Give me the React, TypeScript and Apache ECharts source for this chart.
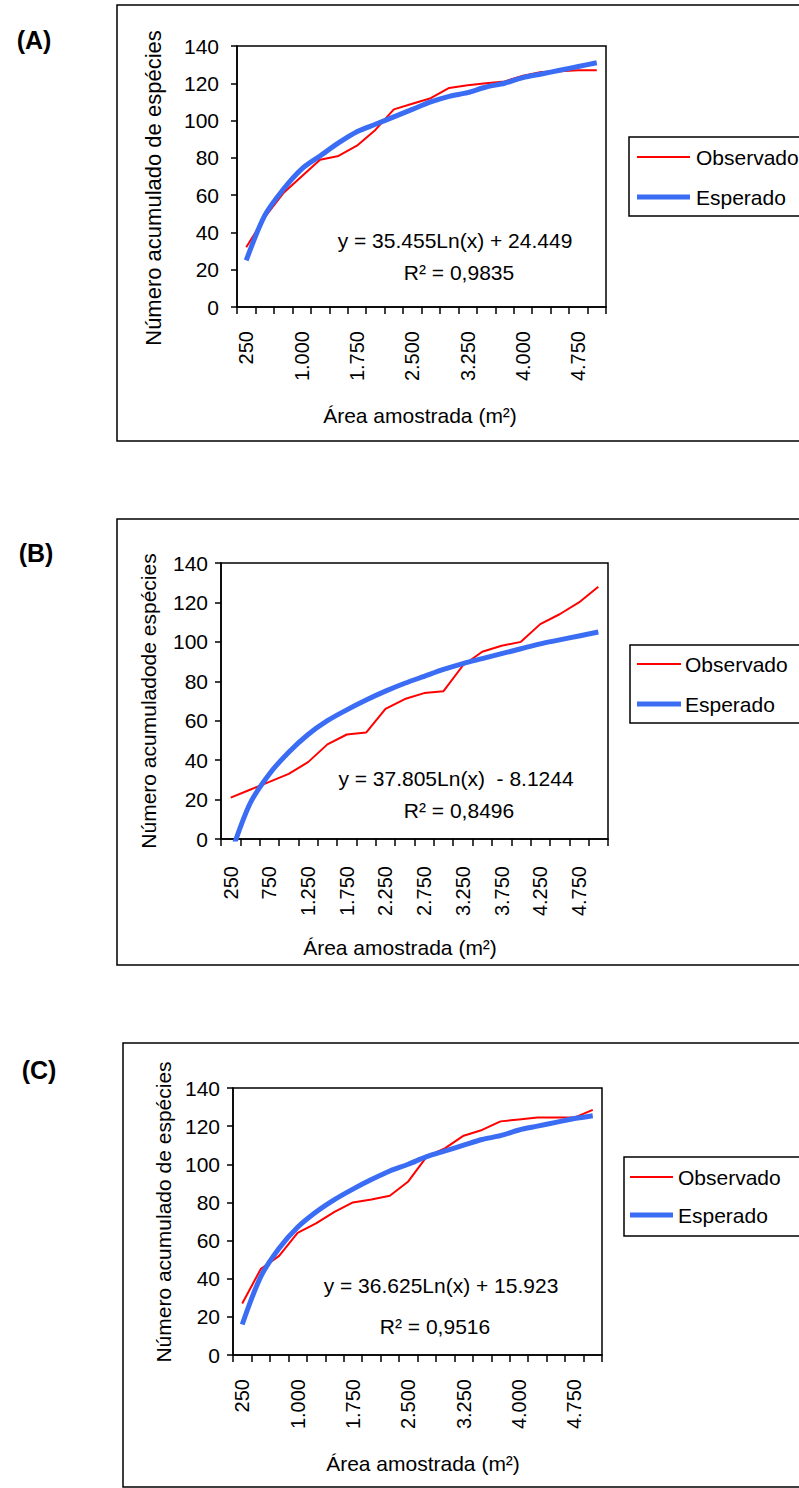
import React, { useEffect, useRef } from 'react';
import * as echarts from 'echarts';

const categories = ['250', '500', '750', '1.000', '1.250', '1.500', '1.750', '2.000', '2.250', '2.500', '2.750', '3.000', '3.250', '3.500', '3.750', '4.000', '4.250', '4.500', '4.750', '5.000'];

const obsA = [32, 48, 61, 70, 79, 81, 86.5, 95, 106, 109, 112, 117.5, 119, 120, 121, 124, 126, 126.5, 127, 127];
const expA = [25, 49, 63, 74, 81, 88, 94, 98, 102, 106, 110, 113, 115, 118, 120, 123, 125, 127, 129, 131];

const obsB = [21, 25, 29, 33, 39, 48, 53, 54, 66, 71, 74, 75, 88, 95, 98, 100, 109, 114, 120, 128];
const expB = [-8, 18, 33, 44, 53, 60, 65.5, 70.5, 75, 79, 82.5, 86, 89, 91.5, 94, 96.5, 99, 101, 103, 105];

const obsC = [27, 45, 52, 64, 69, 75, 80, 81.5, 83.5, 91, 104, 108.5, 115, 118, 122.5, 123.5, 124.5, 124.5, 124.5, 128.5];
const expC = [16, 41, 56, 67, 75, 81.5, 87, 92, 96.5, 100, 104, 107, 110, 113, 115, 118, 120, 122, 124, 125.5];

const panelLabels = ['(A)', '(B)', '(C)'];
const yTitles = ['Número acumulado de espécies', 'Número acumuladode espécies', 'Número acumulado de espécies'];
const xTitle = 'Área amostrada (m²)';
const equations = ['y = 35.455Ln(x) + 24.449', 'y = 37.805Ln(x)  - 8.1244', 'y = 36.625Ln(x) + 15.923'];
const r2Texts = ['R² = 0,9835', 'R² = 0,8496', 'R² = 0,9516'];
const seriesNames = ['Observado', 'Esperado'];

const FONT = 'Liberation Sans, Arial, Helvetica, sans-serif';
const RED = '#ff0000';
const BLUE = '#3b6cf4';

const grids = [
  { left: 237, top: 46, width: 369, height: 261 },
  { left: 221, top: 563, width: 387, height: 276 },
  { left: 233, top: 1088, width: 369, height: 267 },
];
const labelIntervals = [2, 1, 2];
const yLabelMargins = [18, 13, 13];
const xLabelMargins = [24, 27, 24];

const frames = [
  { x: 117, y: 5, width: 800, height: 436 },
  { x: 117, y: 519, width: 800, height: 446 },
  { x: 123, y: 1043, width: 800, height: 444 },
];
const panelLabelPos = [[34, 40], [36, 553], [39, 1070]];
const yTitlePos = [[153, 188], [148, 701], [163, 1212]];
const xTitlePos = [[420, 415], [400, 947], [423, 1463]];
const eqPos = [[455, 240], [456, 778], [441, 1285]];
const r2Pos = [[459, 272], [459, 810], [435, 1326]];
const legendBoxes = [
  { x: 629, y: 137, h: 79, lineX1: 637, lineX2: 690, textX: 696, y1: 157, y2: 197 },
  { x: 630, y: 645, h: 78, lineX1: 637, lineX2: 681, textX: 685, y1: 664, y2: 704 },
  { x: 624, y: 1157, h: 79, lineX1: 630, lineX2: 673, textX: 678, y1: 1177, y2: 1215 },
];

function txt(text: string, x: number, y: number, fontSize: number, extra: any = {}) {
  return {
    type: 'text',
    x,
    y,
    rotation: extra.rotation || 0,
    style: {
      text,
      fontSize,
      fontFamily: FONT,
      fontWeight: extra.fontWeight || 'normal',
      fill: '#000',
      align: extra.align || 'center',
      verticalAlign: 'middle',
    },
  };
}

export default function App() {
  const ref = useRef<HTMLDivElement>(null);

  useEffect(() => {
    if (!ref.current) return;
    const chart = echarts.init(ref.current, undefined, { renderer: 'svg' });
    const obs = [obsA, obsB, obsC];
    const exp = [expA, expB, expC];

    const graphic: any[] = [];
    frames.forEach((f) => {
      graphic.push({ type: 'rect', shape: f, style: { fill: 'none', stroke: '#000', lineWidth: 1.5 }, z: 0 });
    });
    for (let i = 0; i < 3; i++) {
      graphic.push(txt(panelLabels[i], panelLabelPos[i][0], panelLabelPos[i][1], 25, { fontWeight: 'bold' }));
      graphic.push(txt(yTitles[i], yTitlePos[i][0], yTitlePos[i][1], i === 0 ? 22 : 21, { rotation: Math.PI / 2 }));
      graphic.push(txt(xTitle, xTitlePos[i][0], xTitlePos[i][1], 21));
      graphic.push(txt(equations[i], eqPos[i][0], eqPos[i][1], 21));
      graphic.push(txt(r2Texts[i], r2Pos[i][0], r2Pos[i][1], 21));
      const lb = legendBoxes[i];
      graphic.push({ type: 'rect', shape: { x: lb.x, y: lb.y, width: 300, height: lb.h }, style: { fill: '#fff', stroke: '#000', lineWidth: 1.5 } });
      graphic.push({ type: 'line', shape: { x1: lb.lineX1, y1: lb.y1, x2: lb.lineX2, y2: lb.y1 }, style: { stroke: RED, lineWidth: 2 } });
      graphic.push({ type: 'line', shape: { x1: lb.lineX1, y1: lb.y2, x2: lb.lineX2, y2: lb.y2 }, style: { stroke: BLUE, lineWidth: 5 } });
      graphic.push(txt(seriesNames[0], lb.textX, lb.y1, 21, { align: 'left' }));
      graphic.push(txt(seriesNames[1], lb.textX, lb.y2, 21, { align: 'left' }));
    }

    const option: any = {
      animation: false,
      backgroundColor: '#fff',
      grid: grids.map((g) => ({ ...g, show: true, borderColor: '#000', borderWidth: 1.5, backgroundColor: 'transparent', containLabel: false })),
      xAxis: grids.map((_, i) => ({
        gridIndex: i,
        type: 'category',
        data: categories,
        boundaryGap: true,
        axisLine: { show: true, lineStyle: { color: '#000', width: 1.5 } },
        axisTick: { show: true, interval: 0, length: 7, alignWithLabel: false, lineStyle: { color: '#000', width: 1.5 } },
        axisLabel: { interval: labelIntervals[i], rotate: 90, margin: xLabelMargins[i], fontSize: 20, color: '#000', fontFamily: FONT },
        splitLine: { show: false },
      })),
      yAxis: grids.map((_, i) => ({
        gridIndex: i,
        type: 'value',
        min: 0,
        max: 140,
        interval: 20,
        axisLine: { show: true, lineStyle: { color: '#000', width: 1.5 } },
        axisTick: { show: true, length: 6, lineStyle: { color: '#000', width: 1.5 } },
        axisLabel: { margin: yLabelMargins[i], fontSize: 21, color: '#000', fontFamily: FONT },
        splitLine: { show: false },
      })),
      series: [0, 1, 2].flatMap((i) => [
        {
          type: 'line',
          name: seriesNames[0],
          xAxisIndex: i,
          yAxisIndex: i,
          data: obs[i],
          symbol: 'none',
          clip: true,
          lineStyle: { color: RED, width: 2 },
          itemStyle: { color: RED },
          z: 2,
        },
        {
          type: 'line',
          name: seriesNames[1],
          xAxisIndex: i,
          yAxisIndex: i,
          data: exp[i],
          symbol: 'none',
          clip: true,
          smooth: 0.3,
          lineStyle: { color: BLUE, width: 5 },
          itemStyle: { color: BLUE },
          z: 3,
        },
      ]),
      graphic,
    };
    chart.setOption(option);
    return () => chart.dispose();
  }, []);

  return <div ref={ref} style={{ position: 'absolute', left: 0, top: 0, width: 799, height: 1488, background: '#fff' }} />;
}
